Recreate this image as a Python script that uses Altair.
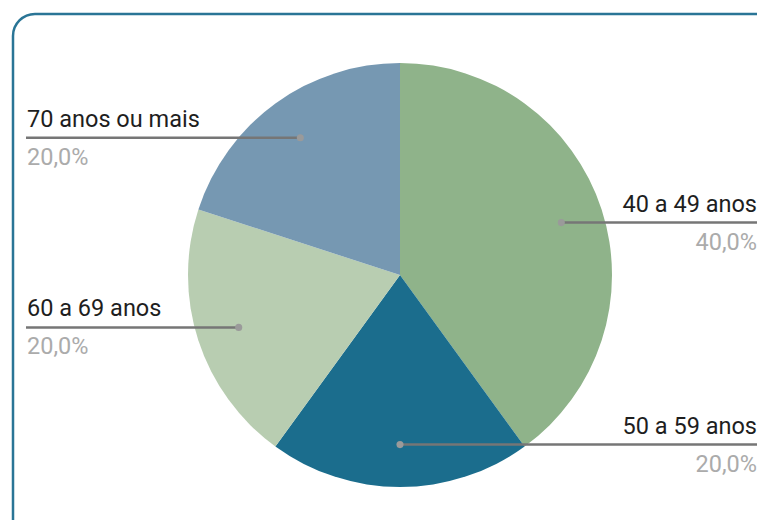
import math
import altair as alt
import pandas as pd

# ---- data ----
categories = ["40 a 49 anos", "50 a 59 anos", "60 a 69 anos", "70 anos ou mais"]
values = [40, 20, 20, 20]
colors = ["#8FB38A", "#1B6D8D", "#B8CDB1", "#7698B2"]

# ---- layout (page pixel coordinates) ----
W, H = 749, 512
CX, CY, R = 400, 275, 212
DOT_FRAC = 0.8
RIGHT_EDGE, LEFT_EDGE = 761, 26
RIGHT_TXT, LEFT_TXT = 757, 27
FONT = "Roboto"
FS = 23.5

xs = alt.Scale(domain=[8, 8 + W], range=[0, W])
ys = alt.Scale(domain=[8, 8 + H], range=[0, H])

total = sum(values)
pie_df = pd.DataFrame({"cat": categories, "val": values, "idx": list(range(len(values)))})

# label anchors derived from the data (mid-angle of each slice)
line_rows, dot_rows, txt_rows = [], [], []
cum = 0.0
for i, (c, v) in enumerate(zip(categories, values)):
    a0 = cum / total * 2 * math.pi
    cum += v
    a1 = cum / total * 2 * math.pi
    mid = (a0 + a1) / 2
    dx = CX + DOT_FRAC * R * math.sin(mid)
    dy = CY - DOT_FRAC * R * math.cos(mid)
    right = math.sin(mid) >= -1e-9
    ex = RIGHT_EDGE if right else LEFT_EDGE
    line_rows += [{"cat": c, "o": 0, "x": dx, "y": dy}, {"cat": c, "o": 1, "x": ex, "y": dy}]
    dot_rows.append({"cat": c, "x": dx, "y": dy})
    pct = f"{v / total * 100:.1f}".replace(".", ",") + "%"
    txt_rows.append({"cat": c, "pct": pct, "tx": RIGHT_TXT if right else LEFT_TXT,
                     "ny": dy - 11, "py": dy + 27, "side": "right" if right else "left"})

lines_df = pd.DataFrame(line_rows)
dots_df = pd.DataFrame(dot_rows)
txt_df = pd.DataFrame(txt_rows)

border_df = pd.DataFrame({"x": [13], "x2": [790], "y": [14], "y2": [560]})

border = alt.Chart(border_df).mark_rect(
    fill="white", stroke="#2A7596", strokeWidth=2.5, cornerRadius=22
).encode(
    x=alt.X("x:Q", scale=xs, axis=None),
    x2="x2:Q",
    y=alt.Y("y:Q", scale=ys, axis=None),
    y2="y2:Q",
)

pie = alt.Chart(pie_df).mark_arc(radius=R, stroke=None).encode(
    theta=alt.Theta("val:Q", stack=True),
    order=alt.Order("idx:Q"),
    color=alt.Color("cat:N", scale=alt.Scale(domain=categories, range=colors), legend=None),
    x=alt.value(CX - 8),
    y=alt.value(CY - 8),
)

leaders = alt.Chart(lines_df).mark_line(color="#767676", strokeWidth=2.5).encode(
    x=alt.X("x:Q", scale=xs, axis=None),
    y=alt.Y("y:Q", scale=ys, axis=None),
    detail="cat:N",
    order="o:Q",
)

dots = alt.Chart(dots_df).mark_circle(color="#9A9A9A", opacity=1, size=50).encode(
    x=alt.X("x:Q", scale=xs, axis=None),
    y=alt.Y("y:Q", scale=ys, axis=None),
)

def labels(side, align):
    base = alt.Chart(txt_df).transform_filter(alt.datum.side == side)
    name = base.mark_text(align=align, baseline="alphabetic", font=FONT, fontSize=FS,
                          color="#1E1E1E").encode(
        x=alt.X("tx:Q", scale=xs, axis=None),
        y=alt.Y("ny:Q", scale=ys, axis=None),
        text="cat:N",
    )
    pct = base.mark_text(align=align, baseline="alphabetic", font=FONT, fontSize=FS,
                         color="#ABABAB").encode(
        x=alt.X("tx:Q", scale=xs, axis=None),
        y=alt.Y("py:Q", scale=ys, axis=None),
        text="pct:N",
    )
    return name + pct

chart = alt.layer(
    border, pie, leaders, dots, labels("right", "right"), labels("left", "left")
).properties(
    width=W, height=H, padding=0, autosize=alt.AutoSizeParams(type="none")
).configure_view(stroke=None).resolve_scale(color="independent")

chart.save("out.html", embed_options={"renderer": "svg", "actions": False})
